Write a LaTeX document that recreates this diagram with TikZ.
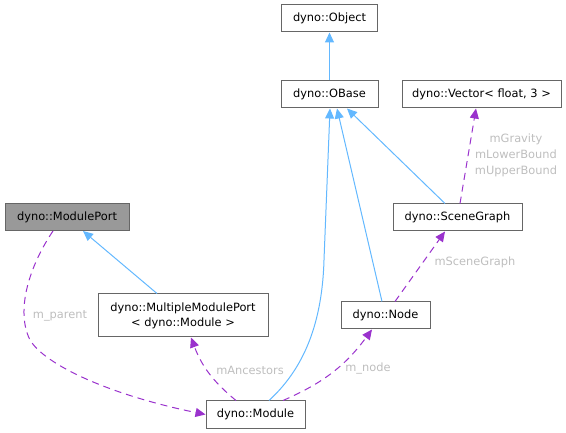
\documentclass[tikz,border=0pt]{standalone}
\usepackage{fontspec}
\setmainfont{DejaVu Sans}
\usepackage{tikz}
\usetikzlibrary{calc,
                arrows.meta
                }
\definecolor{inhblue}{HTML}{63B8FF}
\definecolor{usepurple}{HTML}{9A32CD}
\definecolor{boxgray}{HTML}{666666}
\definecolor{labelgray}{HTML}{BEBEBE}
\definecolor{curfill}{HTML}{999999}
\tikzset{
    cls/.style={draw=boxgray, fill=white, line width=1pt, inner sep=0pt,
    minimum height=27pt, align=center, font=\fontsize{11.4}{15}\selectfont},
    inherit/.style={inhblue, line width=1pt,
    -{Triangle[length=10pt,width=9pt]}},
    usage/.style={usepurple, line width=1pt, dash pattern=on 7pt off 5pt,
    -{Triangle[length=10pt,width=9pt]}},
    lbl/.style={labelgray, align=center, font=\fontsize{11.4}{16}\selectfont}
}

\begin{document}
\begin{tikzpicture}[x=1pt, y=-1pt]
    \useasboundingbox (0,0) rectangle (566,433);

    \node[cls, minimum width=96pt] (object) at (329.5,18.5) {dyno::Object};
    \node[cls, minimum width=97pt] (obase) at (329.5,94.5) {dyno::OBase};
    \node[cls, minimum width=159pt] (vector) at (481.5,94.5)
    {dyno::Vector< float, 3 >};
    \node[cls, minimum width=129pt] (scenegraph) at (457.5,217.5)
    {dyno::SceneGraph};
    \node[cls, minimum width=89pt] (dnode) at (385.5,315.5) {dyno::Node};
    \node[cls, minimum width=99pt] (module) at (255.5,414.5) {dyno::Module};
    \node[cls, minimum width=124pt, fill=curfill] (moduleport) at (67,217)
    {dyno::ModulePort};
    \node[cls, minimum width=170pt, minimum height=43pt] (multiport)
    at (183,315.5) {dyno::MultipleModulePort\\< dyno::Module >};

    \draw[inherit] (obase) -- (object);
    \draw[inherit] ([xshift=-12.5pt]scenegraph.north)
    -- ([xshift=17.5pt]obase.south);
    \draw[inherit] ([xshift=-3.5pt]dnode.north) -- ([xshift=7.5pt]obase.south);
    \draw[inherit] ([xshift=13.5pt]module.north) .. controls (300,372)
    and (322,330) .. (324,260) -- ([xshift=0.5pt]obase.south);
    \draw[inherit] ([xshift=-26pt]multiport.north)
    -- ([xshift=16pt]moduleport.south);

    \draw[usage] ([xshift=2.5pt]scenegraph.north)
    -- ([xshift=-5.5pt]vector.south);
    \draw[usage] ([xshift=9.5pt]dnode.north)
    -- ([xshift=-12.5pt]scenegraph.south);
    \draw[usage] ([xshift=27.5pt]module.north) to[bend right=15]
    ([xshift=-13.5pt]dnode.south);
    \draw[usage] ([xshift=-19.5pt]module.north) to[bend left=15]
    ([xshift=8pt]multiport.south);
    \draw[usage] ([xshift=-14pt]moduleport.south) .. controls (30,265)
    and (15,310) .. (30,340) .. controls (45,365) and (110,395) .. (module.west);

    \node[lbl] (lbounds) at (516,155) {mGravity\\mLowerBound\\mUpperBound};
    \node[lbl] (lscene) at (475,262) {mSceneGraph};
    \node[lbl] (lnode) at (368,369) {m\_node};
    \node[lbl] (lancestors) at (250,370) {mAncestors};
    \node[lbl] (lparent) at (60,316) {m\_parent};
\end{tikzpicture}
\end{document}
